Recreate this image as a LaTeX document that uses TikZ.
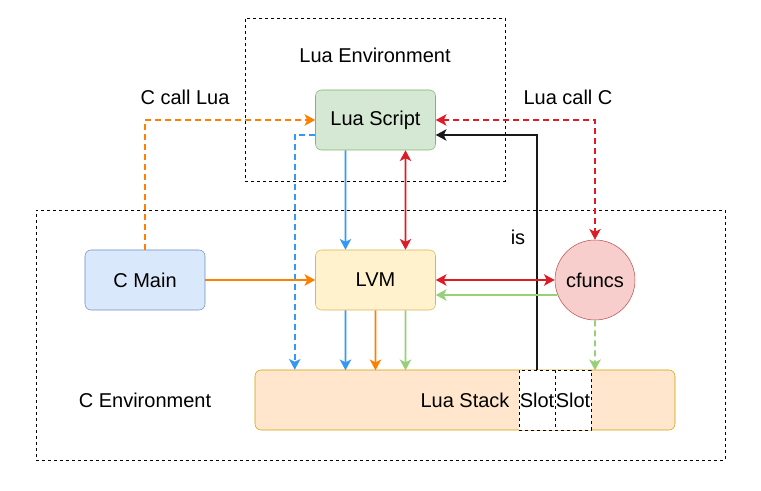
\documentclass[tikz,border=0pt]{standalone}
\usepackage{fontspec}
\setmainfont{Liberation Sans}
\usetikzlibrary{positioning,arrows.meta,calc}
\definecolor{ScriptFill}{HTML}{D5E8D4}
\definecolor{ScriptLine}{HTML}{82B366}
\definecolor{VMFill}{HTML}{FFF2CC}
\definecolor{VMLine}{HTML}{D6B656}
\definecolor{MainFill}{HTML}{DAE8FC}
\definecolor{MainLine}{HTML}{6C8EBF}
\definecolor{FuncFill}{HTML}{F8CECC}
\definecolor{FuncLine}{HTML}{B85450}
\definecolor{StackFill}{HTML}{FFE6CC}
\definecolor{StackLine}{HTML}{D79B00}
\definecolor{ArrBlue}{HTML}{3399F5}
\definecolor{ArrOrange}{HTML}{FF8000}
\definecolor{ArrRed}{HTML}{DD1C26}
\definecolor{ArrGreen}{HTML}{97D077}

\begin{document}
\begin{tikzpicture}[x=0.75pt, y=-0.75pt, font=\fontsize{15}{18}\selectfont,
  every node/.style={align=center},
  box/.style={draw, rounded corners=4.5pt, minimum width=90pt, minimum height=45pt},
  env/.style={draw, dash pattern=on 2.25pt off 2.25pt, thin, minimum width=#1},
  slotbox/.style={draw, dash pattern=on 2.25pt off 2.25pt, thin, fill=white, minimum width=27pt, minimum height=45pt, inner sep=0pt},
  arr/.style={-{Stealth[length=8pt,width=8.5pt,inset=2pt]}, line width=1.4pt},
  darr/.style={{Stealth[length=8pt,width=8.5pt,inset=2pt]}-{Stealth[length=8pt,width=8.5pt,inset=2pt]}, line width=1.4pt},
  dsh/.style={dash pattern=on 4.5pt off 3pt}]
  \useasboundingbox (0,0) rectangle (761,491);
  % environments
  \node[env=195pt, minimum height=122.25pt] (luaenv) at (375,99.5) {};
  \node[env=516.75pt, minimum height=187.5pt] (cenv) at (380.5,335) {};
  \node (luaenvlbl) at (375,55) {Lua Environment};
  \node (cenvlbl) at (145,400) {C Environment};
  % components
  \node[box, fill=ScriptFill, draw=ScriptLine] (script) at (375.5,120) {Lua Script};
  \node[box, fill=VMFill, draw=VMLine] (lvm) at (375.5,280) {LVM};
  \node[box, fill=MainFill, draw=MainLine] (cmain) at (145,280) {C Main};
  \node[draw=FuncLine, fill=FuncFill, circle, minimum size=60pt, inner sep=0pt] (cfuncs) at (595,280) {cfuncs};
  \node[box, fill=StackFill, draw=StackLine, minimum width=315pt] (stack) at (465,400) {};
  \node (stacklbl) at (465,400) {Lua Stack};
  \node[slotbox] (slota) at (537,400) {Slot};
  \node[slotbox] (slotb) at (573,400) {Slot};
  % labels
  \node (clua) at (185,97) {C call Lua};
  \node (luac) at (568,97) {Lua call C};
  \node (islbl) at (518,237) {is};
  % calls between environments
  \draw[arr, dsh, ArrOrange] (cmain.north) |- (script.west);
  \draw[darr, dsh, ArrRed] (script.east) -| (cfuncs.north);
  \draw[arr, black!90] (slota.north) |- ($(script.east)+(0,15)$);
  \draw[arr, dsh, ArrBlue] ($(script.west)+(0,15)$) -| ($(stack.north west)+(40,0)$);
  % script and vm
  \draw[arr, ArrBlue] ($(script.south)+(-30,0)$) -- ($(lvm.north)+(-30.01,0)$);
  \draw[darr, ArrRed] ($(script.south)+(30,0)$) -- ($(lvm.north)+(30.01,0)$);
  \draw[arr, ArrOrange] (cmain.east) -- (lvm.west);
  \draw[darr, ArrRed] (lvm.east) -- (cfuncs.west);
  \draw[arr, ArrGreen] ($(cfuncs.west)+(2,15)$) -- ($(lvm.east)+(0,15)$);
  % down to the stack
  \draw[arr, ArrBlue] ($(lvm.south)+(-30,0)$) -- ++(0.01,60);
  \draw[arr, ArrOrange] (lvm.south) -- ++(0.01,60);
  \draw[arr, ArrGreen] ($(lvm.south)+(30,0)$) -- ++(0.01,60);
  \draw[arr, dsh, ArrGreen] (cfuncs.south) -- ++(0.01,50);
\end{tikzpicture}
\end{document}
